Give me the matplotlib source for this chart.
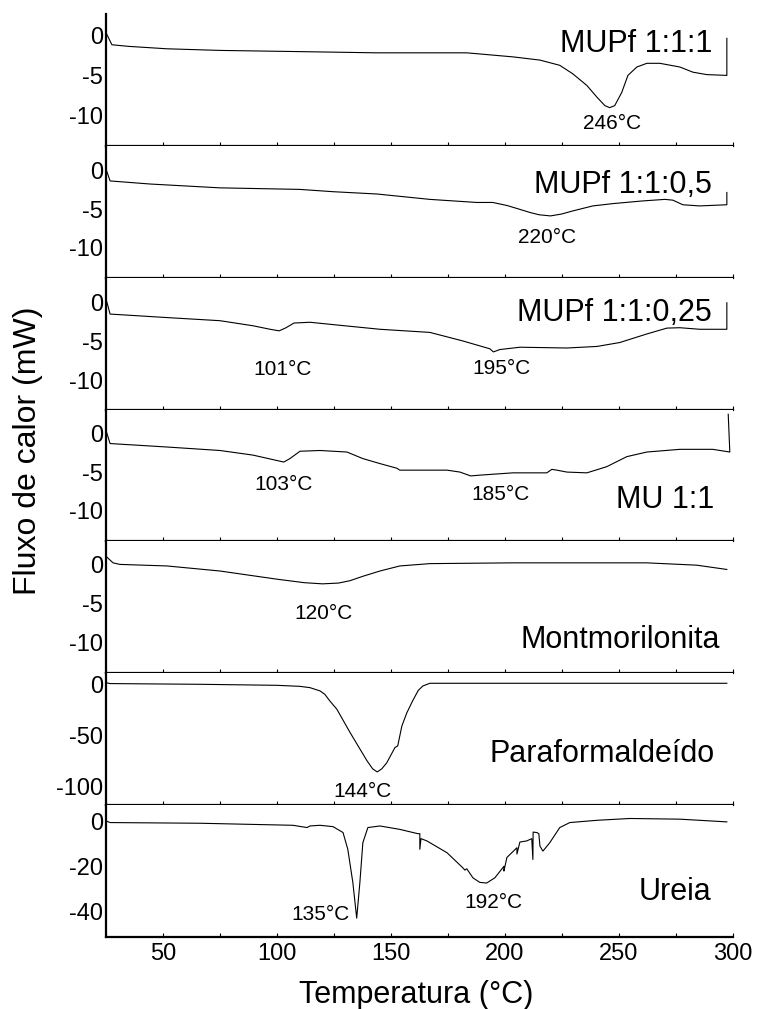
import matplotlib
matplotlib.use("Agg")
import matplotlib.pyplot as plt
from matplotlib.ticker import MultipleLocator

plt.rcParams['font.family'] = ['Liberation Sans', 'DejaVu Sans']
plt.rcParams['axes.unicode_minus'] = False

# DSC curves, temperature (°C) vs heat flow (mW)
mupf_111_t = [25, 27.6, 35, 51.8, 75, 110, 143.9, 183.3, 203.5, 215.4, 224.1, 229.8, 236, 240.4,
              243.9, 246, 248.2, 251.3, 254, 257.9, 262.3, 268, 276.8, 282.5, 288.6, 297.4, 297.4]
mupf_111_q = [0.3, -1.2, -1.4, -1.7, -1.9, -2.05, -2.2, -2.2, -2.7, -3.1, -3.75, -4.8, -6.25, -7.7,
              -8.75, -9.0, -8.75, -7.1, -5.0, -3.96, -3.5, -3.5, -3.96, -4.6, -4.9, -5.0, -0.4]

mupf_1105_t = [25, 26.8, 44.3, 75, 110, 124.6, 143.9, 167.1, 187.7, 194.7, 201, 206.6, 211, 215,
               220, 225, 229.8, 238.6, 247.4, 260.5, 270.2, 273.7, 278.1, 285.5, 297.4, 297.4]
mupf_1105_q = [0.25, -1.3, -1.7, -2.2, -2.4, -2.7, -3.0, -3.7, -4.1, -4.1, -4.5, -5.0, -5.4, -5.7,
               -5.85, -5.6, -5.2, -4.55, -4.25, -3.9, -3.7, -3.8, -4.4, -4.55, -4.4, -2.8]

mupf_11025_t = [25, 26.8, 51.8, 75, 89.5, 97, 101, 104, 107.5, 114.5, 124.6, 145.2, 167.1, 181.6,
                193.4, 195, 197.8, 206.6, 227.2, 240.4, 250.4, 262.3, 271.1, 276.8, 285.5,
                297.4, 297.4]
mupf_11025_q = [0.5, -1.45, -1.9, -2.3, -2.95, -3.4, -3.6, -3.2, -2.6, -2.5, -2.8, -3.4, -3.8,
                -4.9, -5.9, -6.3, -6.0, -5.7, -5.8, -5.6, -5.1, -4.0, -3.25, -3.2, -3.4, -3.4, 0.0]

mu_11_t = [25, 26.8, 51.8, 75, 89.5, 103, 105.7, 110.1, 118.9, 130.7, 137.7, 145.2, 152.6, 153.9,
           174.6, 180.3, 185, 189, 203.5, 218.4, 220.6, 222.8, 227.2, 236, 244.7, 253.5, 262.3,
           276.8, 291.2, 298.7, 298.0]
mu_11_q = [0.4, -1.3, -1.75, -2.2, -2.8, -3.7, -3.25, -2.3, -2.2, -2.4, -3.25, -3.9, -4.5, -4.75,
           -4.75, -5.0, -5.5, -5.4, -5.1, -5.1, -4.65, -4.75, -5.0, -5.1, -4.3, -3.0, -2.4,
           -2.05, -2.05, -2.4, 2.5]

mont_t = [25, 28.1, 31.1, 51.8, 75, 100, 112, 120, 127, 132, 138, 145.2, 153.9, 167.1, 203.5,
          262.3, 284.2, 297.4]
mont_q = [1.05, 0.2, 0.0, -0.2, -0.85, -1.9, -2.35, -2.5, -2.4, -2.1, -1.5, -0.85, -0.2, 0.1, 0.2,
          0.2, -0.1, -0.65]

paraf_t = [25, 26.8, 66.2, 100, 110, 114.5, 118.9, 121, 123.2, 126.3, 132, 139.5, 142, 144, 146,
           148.2, 151.8, 153, 154.8, 157, 159.6, 162, 164, 167.1, 189, 297.4]
paraf_q = [1.6, 0.7, 0, -1, -2, -3.3, -6.5, -9.8, -16.3, -24.5, -47, -75, -83, -86, -83,
           -77, -62, -60.5, -41, -28, -16, -6, -1.7, 1, 1, 1]

ureia_t = [25, 26.8, 66.2, 107, 113.2, 114.5, 118.9, 124.6, 129, 131.1, 133.3, 135, 136.4, 137.7,
           139.9, 145.2, 153.9, 161.8, 162.7, 162.7, 163.2, 165.8, 174.6, 181.6, 182.5, 183.3,
           186, 189, 192, 195.6, 199.6, 199.6, 200.9, 205.3, 205.3, 206.6, 209.6, 211.8, 212.3,
           212.4, 214, 214.9, 215.4, 216.7, 219.7, 224.1, 228.5, 240.4, 254.8, 276.8, 297.4]
ureia_q = [0.15, -0.6, -0.9, -1.8, -2.8, -2.1, -1.8, -2.4, -5, -12.4, -27, -42.8, -27, -9.5,
           -2.8, -2.1, -3.6, -5.5, -5.5, -12.4, -7.7, -8.7, -13.9, -20.6, -21.6, -21,
           -25, -27, -27.3, -25, -19.9, -22, -16, -11.7, -14.5, -9.2, -8.7, -7.7, -16.9,
           -4.8, -5.0, -5.5, -11, -13.2, -9.5, -2.8, -0.6, 0.4, 1.2, 0.9, -0.3]

names = ['MUPf 1:1:1', 'MUPf 1:1:0,5', 'MUPf 1:1:0,25', 'MU 1:1',
         'Montmorilonita', 'Paraformaldeído', 'Ureia']
curves = [(mupf_111_t, mupf_111_q), (mupf_1105_t, mupf_1105_q), (mupf_11025_t, mupf_11025_q),
          (mu_11_t, mu_11_q), (mont_t, mont_q), (paraf_t, paraf_q), (ureia_t, ureia_q)]
yticks = [[0, -5, -10]] * 5 + [[0, -50, -100], [0, -20, -40]]
ylims = [(-13.75, 2.6), (-13.9, 3.25), (-13.7, 3.2), (-14.0, 3.1), (-14.0, 2.95),
         (-118.6, 10.8), (-51.1, 7.1)]

# peak temperatures marked on each curve
peaks = [[246], [220], [101, 195], [103, 185], [120], [144], [135, 192]]

# name placement (axes fraction, right edge / baseline)
name_pos = [(0.968, 0.71), (0.966, 0.644), (0.966, 0.674), (0.971, 0.256),
            (0.979, 0.19), (0.971, 0.326), (0.966, 0.28)]
# peak label placement (x in °C, baseline in mW)
peak_pos = [[(247, -11.6)], [(218.4, -9.35)], [(102.6, -9.2), (198.7, -9.1)],
            [(103, -7.3), (198.2, -8.6)], [(120.6, -7.05)], [(137.7, -110.8)],
            [(118.9, -43.6), (195.2, -38.2)]]

fig, axes = plt.subplots(7, 1, sharex=True, figsize=(7.57, 10.09), dpi=100)
fig.subplots_adjust(left=0.140, right=0.968, top=0.986, bottom=0.0714, hspace=0)

for i, ax in enumerate(axes):
    t, q = curves[i]
    ax.plot(t, q, color='black', lw=0.8)
    ax.set_xlim(25, 300)
    ax.set_ylim(*ylims[i])
    ax.set_yticks(yticks[i])
    ax.spines['top'].set_visible(False)
    ax.spines['right'].set_visible(False)
    ax.spines['left'].set_linewidth(1.6)
    ax.spines['bottom'].set_linewidth(1.6)
    ax.xaxis.set_major_locator(MultipleLocator(50))
    ax.xaxis.set_minor_locator(MultipleLocator(25))
    ax.tick_params(axis='x', which='both', direction='in', length=3, width=0.8,
                   labelsize=17, pad=4)
    ax.tick_params(axis='y', length=0, labelsize=17, pad=2)
    ax.text(name_pos[i][0], name_pos[i][1], names[i], transform=ax.transAxes,
            ha='right', va='baseline', fontsize=22)
    for (px, py), p in zip(peak_pos[i], peaks[i]):
        ax.text(px, py, f'{p}°C', ha='center', va='baseline', fontsize=15)

fig.text(0.037, 0.553, 'Fluxo de calor (mW)', rotation=90, ha='center', va='center',
         fontsize=23)
fig.text(0.5495, 0.006, 'Temperatura (°C)', ha='center', va='baseline', fontsize=22)

fig.savefig('out.png', dpi=100)
